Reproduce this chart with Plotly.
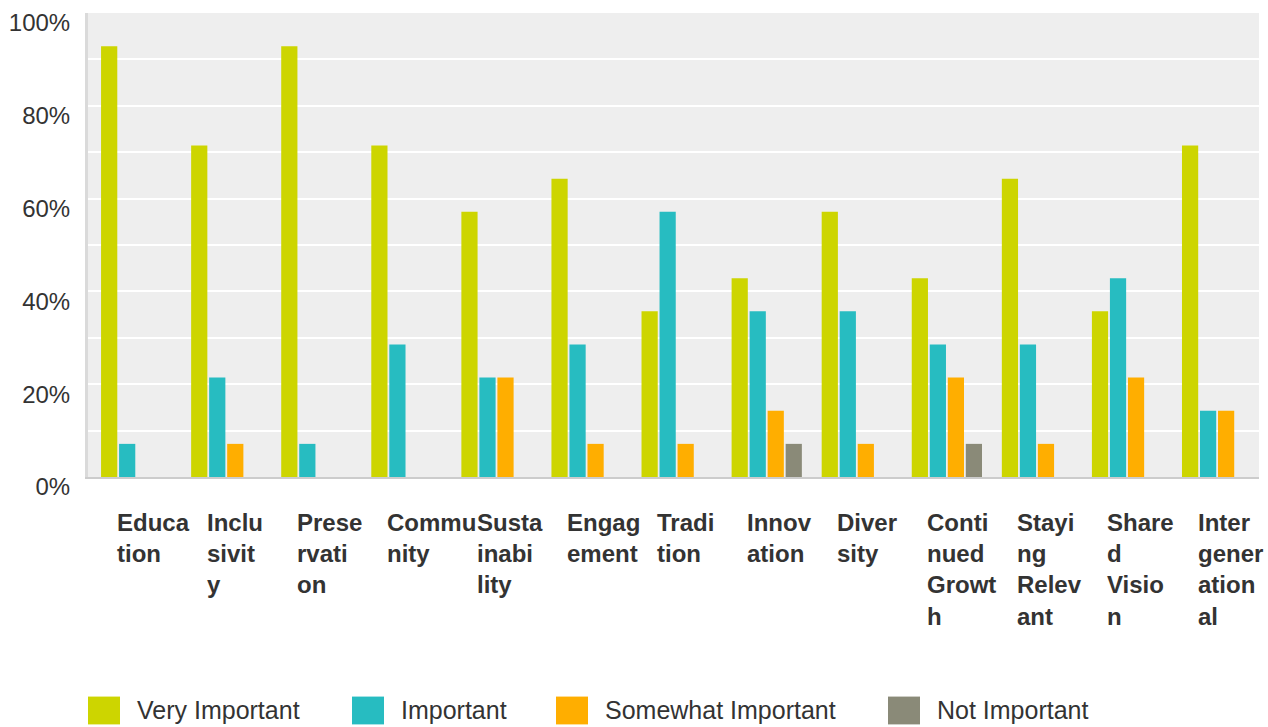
import plotly.graph_objects as go

categories = ["Education", "Inclusivity", "Preservation", "Community", "Sustainability",
              "Engagement", "Tradition", "Innovation", "Diversity", "Continued Growth",
              "Staying Relevant", "Shared Vision", "Intergenerational"]
tick_labels = ["Educa<br>tion", "Inclu<br>sivit<br>y", "Prese<br>rvati<br>on", "Commu<br>nity",
               "Susta<br>inabi<br>lity", "Engag<br>ement", "Tradi<br>tion", "Innov<br>ation",
               "Diver<br>sity", "Conti<br>nued<br>Growt<br>h", "Stayi<br>ng<br>Relev<br>ant",
               "Share<br>d<br>Visio<br>n", "Inter<br>gener<br>ation<br>al"]
very_important = [92.86, 71.43, 92.86, 71.43, 57.14, 64.29, 35.71, 42.86, 57.14, 42.86, 64.29, 35.71, 71.43]
important = [7.14, 21.43, 7.14, 28.57, 21.43, 28.57, 57.14, 35.71, 35.71, 28.57, 28.57, 42.86, 14.29]
somewhat_important = [0, 7.14, 0, 0, 21.43, 7.14, 7.14, 14.29, 7.14, 21.43, 7.14, 21.43, 14.29]
not_important = [0, 0, 0, 0, 0, 0, 0, 7.14, 0, 7.14, 0, 0, 0]
series_names = ["Very Important", "Important", "Somewhat Important", "Not Important"]
colors = ["#cdd500", "#27bcc1", "#ffae00", "#8a8a78"]
y_ticks = [0, 20, 40, 60, 80, 100]
y_tick_text = ["0%", "20%", "40%", "60%", "80%", "100%"]

W, H = 1268, 727
L, R, T, B = 88, 9, 10, 250
PW, PH = W - L - R, H - T - B


def px_x(px):
    return (px - L) / PW


def px_y(py):
    return (H - B - py) / PH


fig = go.Figure()
for name, vals, col in zip(series_names, [very_important, important, somewhat_important, not_important], colors):
    fig.add_trace(go.Bar(x=list(range(len(categories))), y=vals, name=name,
                         marker=dict(color=col, line=dict(width=0)), showlegend=False,
                         hovertext=categories))

annotations = []
for i, lab in enumerate(tick_labels):
    annotations.append(dict(x=i - 0.24, xref="x", y=px_y(507), yref="paper",
                            text="<b>" + lab + "</b>", showarrow=False, xanchor="left",
                            yanchor="top", align="left",
                            font=dict(family="Liberation Sans, Arial", size=24, color="#333333")))

shapes = []
legend_sq = [88, 352, 556, 888]
for sx, name, col in zip(legend_sq, series_names, colors):
    shapes.append(dict(type="rect", xref="paper", yref="paper",
                       x0=px_x(sx), x1=px_x(sx + 32), y0=px_y(698), y1=px_y(726),
                       fillcolor=col, line=dict(width=0)))
    annotations.append(dict(x=px_x(sx + 47), xref="paper", y=px_y(712), yref="paper",
                            text=name, showarrow=False, xanchor="left", yanchor="middle",
                            font=dict(family="Liberation Sans, Arial", size=25, color="#333333")))

fig.update_layout(
    width=W, height=H,
    margin=dict(l=L, r=R, t=T, b=B),
    paper_bgcolor="white", plot_bgcolor="#eeeeee",
    barmode="group", bargap=0.2, bargroupgap=0.1,
    showlegend=False,
    annotations=annotations, shapes=shapes,
    font=dict(family="Liberation Sans, Arial", color="#333333"),
    xaxis=dict(range=[-0.535, 12.465], showticklabels=False, showgrid=False,
               zeroline=False, showline=True, linecolor="#cccccc", linewidth=2, ticks=""),
    yaxis=dict(range=[0, 100], tickvals=y_ticks, ticktext=y_tick_text,
               showgrid=True, gridcolor="white", gridwidth=1.5, zeroline=False,
               showline=True, linecolor="#dadada", linewidth=3,
               tickfont=dict(size=24, color="#333333"), ticks="",
               ticklabelstandoff=10, ticklabelshift=10,
               minor=dict(dtick=10, showgrid=True, gridcolor="white", gridwidth=1.5)),
)

fig.write_html("out.html")
